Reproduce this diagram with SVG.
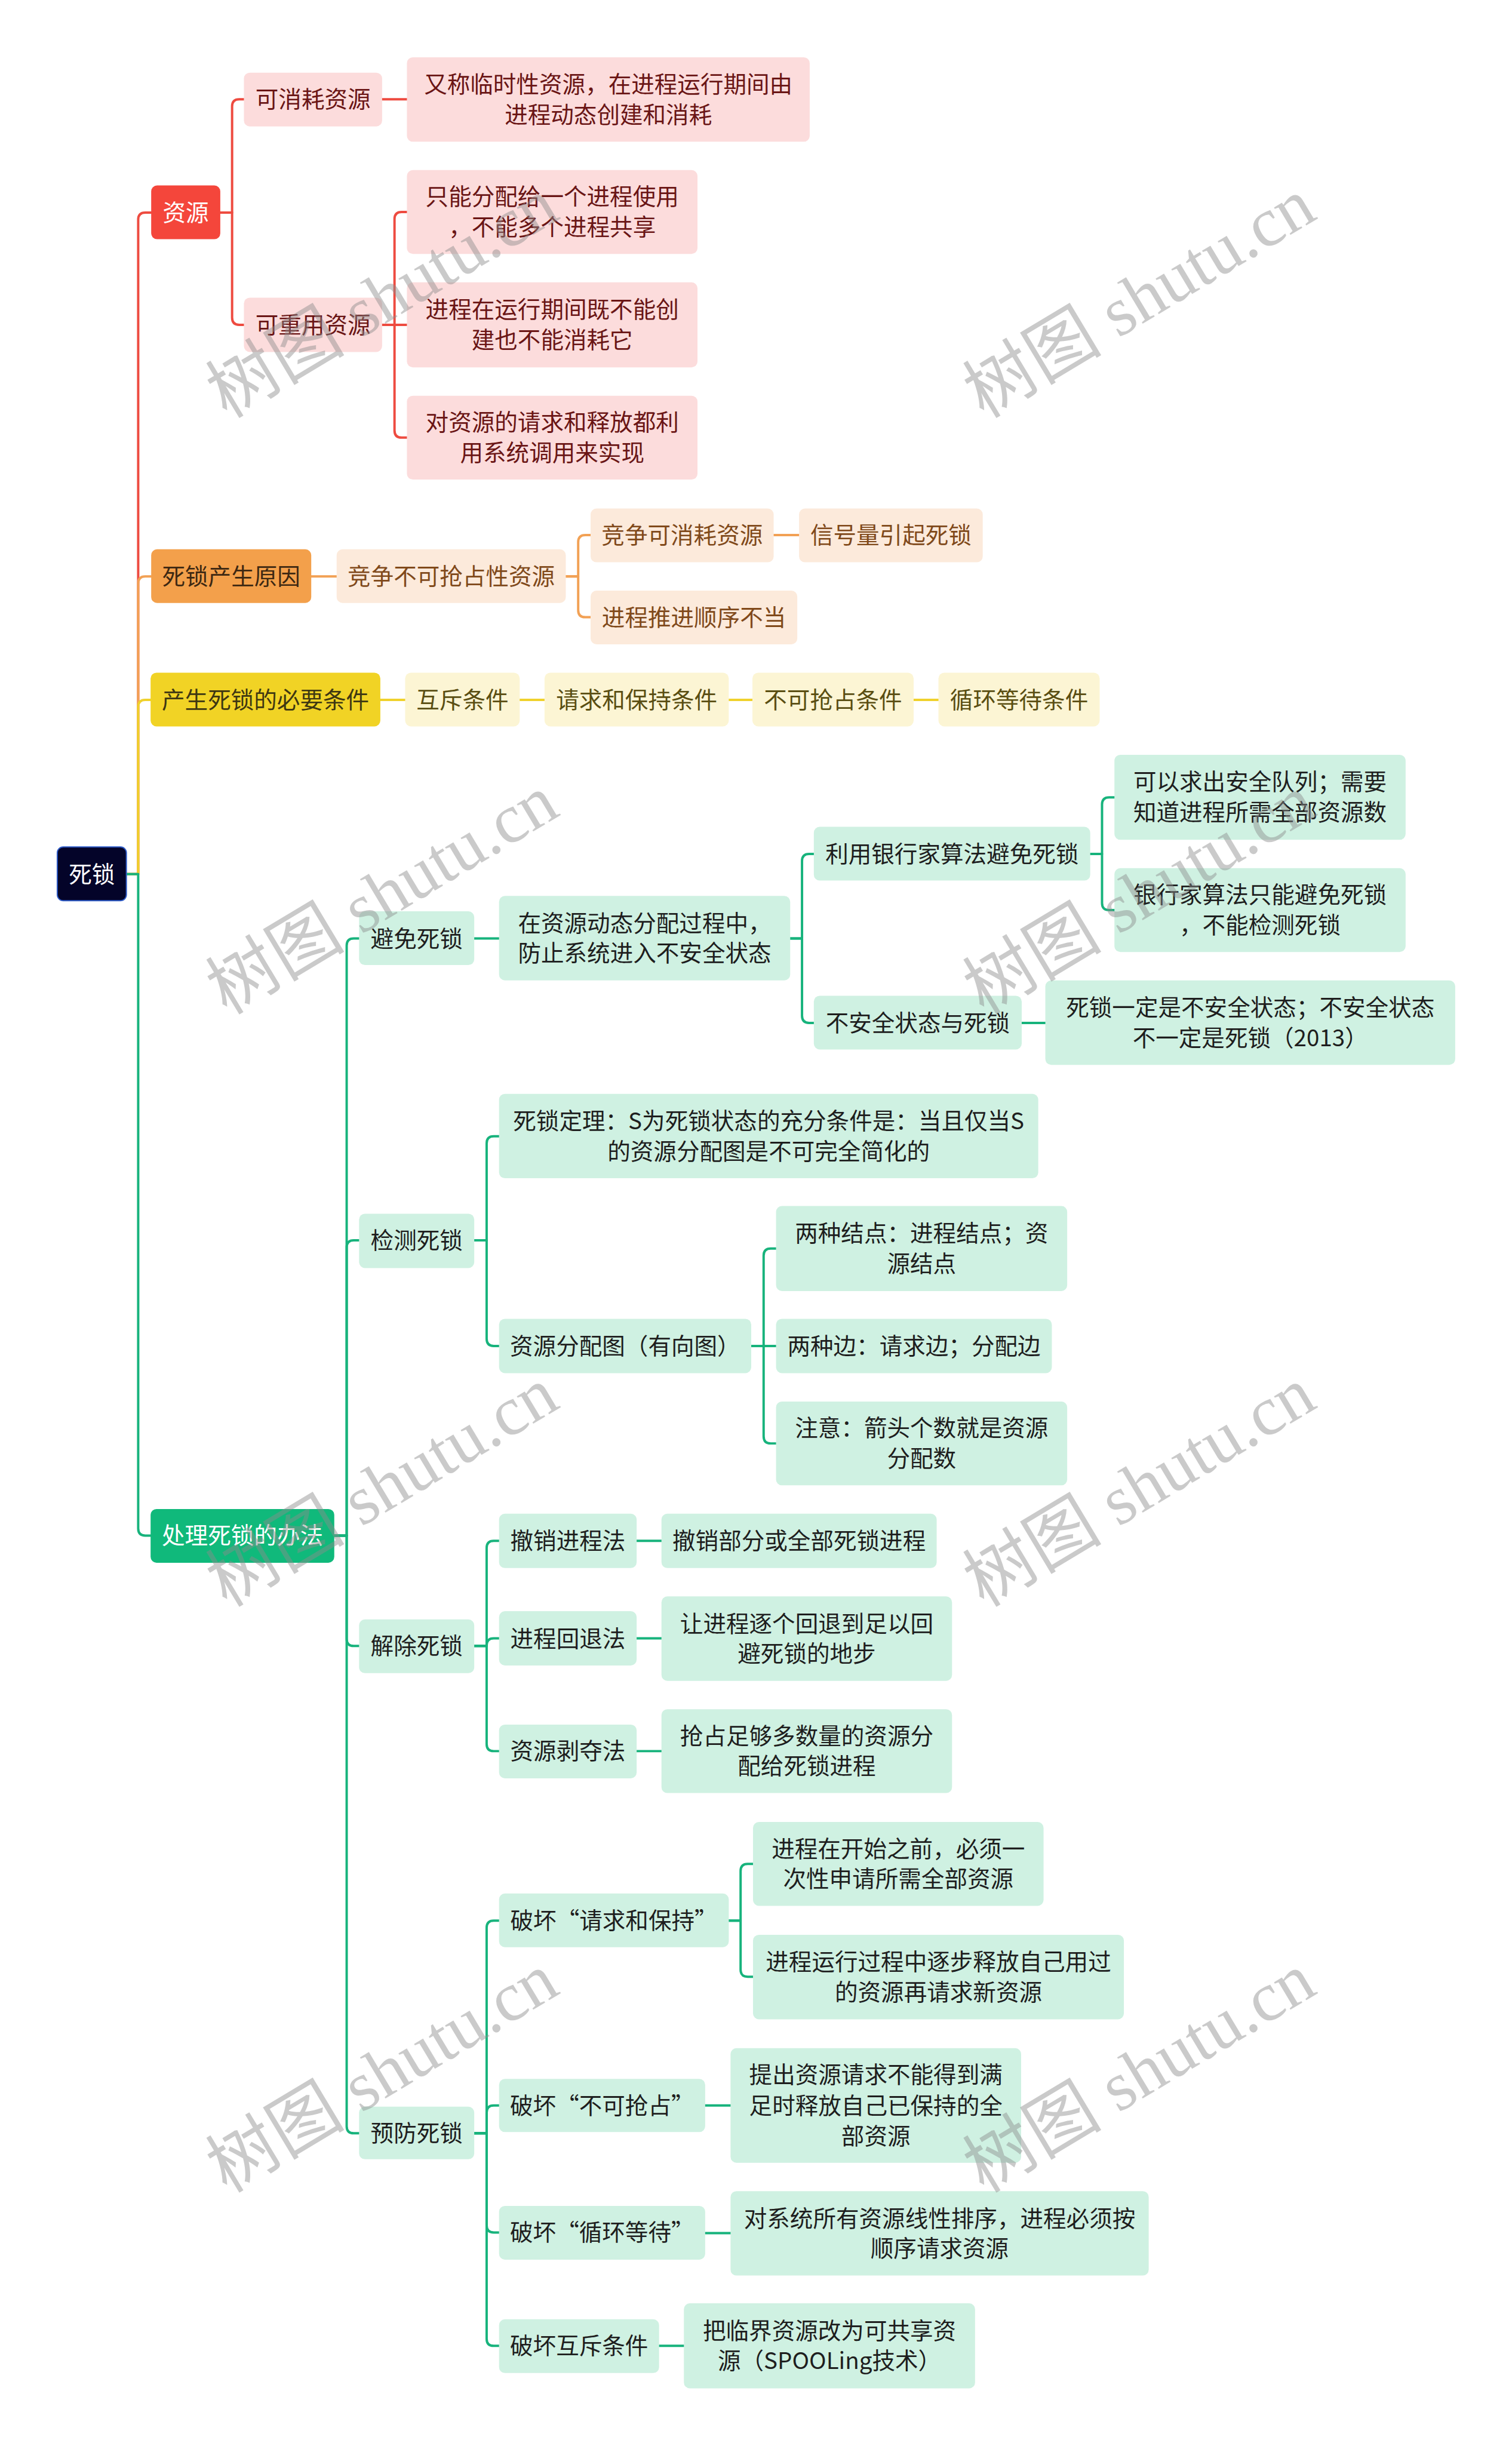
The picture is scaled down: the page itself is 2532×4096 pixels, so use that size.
<svg xmlns="http://www.w3.org/2000/svg" width="2532" height="4096" viewBox="0 0 2532 4096">
<style>
.t{font-family:"Noto Sans CJK SC","Noto Sans",sans-serif;font-size:39px;text-anchor:middle;dominant-baseline:central;transform:translateY(-3px)}
.c{fill:none;stroke-width:4;stroke-linecap:round;stroke-linejoin:round}
.cr{stroke:#EE4B40}.co{stroke:#F2A155}.cy{stroke:#F0D12C}.cg{stroke:#17B37C}
.rm{fill:#F4463B}.rs{fill:#FCDCDC}.om{fill:#F3A04B}.os{fill:#FCEADB}
.ym{fill:#F1D325}.ys{fill:#FCF5D4}.gm{fill:#10B97B}.gs{fill:#CFF1E2}
.root{fill:#040429;stroke:#2D5AC7;stroke-width:2}
.tw{fill:#FFFFFF}.trs{fill:#6A1515}.tom{fill:#3D2812}.tos{fill:#80491A}
.tym{fill:#3E3712}.tys{fill:#5A4E12}.tgs{fill:#1E1E1E}
.wm{font-family:"Liberation Serif","Noto Sans CJK SC",serif;font-size:118px;fill:#8C8C8C;opacity:0.45;text-anchor:middle;dominant-baseline:central}
</style>
<rect width="2532" height="4096" fill="#FFFFFF"/>
<g transform="scale(0.989)">
<g id="connectors">
<path class="c cr" d="M214 1480 H234 V372 Q234 360 246 360 H256"/>
<path class="c co" d="M214 1480 H234 V988 Q234 976 246 976 H256"/>
<path class="c cy" d="M214 1480 H234 V1197 Q234 1185 246 1185 H255"/>
<path class="c cg" d="M214 1480 H234 V2588 Q234 2600 246 2600 H255"/>
<path class="c cr" d="M373 360 H393 V180 Q393 168 405 168 H413"/>
<path class="c cr" d="M373 360 H393 V538 Q393 550 405 550 H413"/>
<path class="c cr" d="M647 168 H689"/>
<path class="c cr" d="M647 550 H668 V371 Q668 359 680 359 H689"/>
<path class="c cr" d="M647 550 H689"/>
<path class="c cr" d="M647 550 H668 V729 Q668 741 680 741 H689"/>
<path class="c co" d="M527 976 H570"/>
<path class="c co" d="M958 976 H979 V918 Q979 906 991 906 H1000"/>
<path class="c co" d="M958 976 H979 V1033 Q979 1045 991 1045 H1000"/>
<path class="c co" d="M1310 906 H1353"/>
<path class="c cy" d="M644 1185 H686"/>
<path class="c cy" d="M880 1185 H922"/>
<path class="c cy" d="M1234 1185 H1274"/>
<path class="c cy" d="M1547 1185 H1589"/>
<path class="c cg" d="M566 2600 H587 V1601 Q587 1589 599 1589 H608"/>
<path class="c cg" d="M566 2600 H587 V2112 Q587 2100 599 2100 H608"/>
<path class="c cg" d="M566 2600 H587 V2775 Q587 2787 599 2787 H608"/>
<path class="c cg" d="M566 2600 H587 V3600 Q587 3612 599 3612 H608"/>
<path class="c cg" d="M803 1589 H845"/>
<path class="c cg" d="M1338 1589 H1358 V1458 Q1358 1446 1370 1446 H1378"/>
<path class="c cg" d="M1338 1589 H1358 V1720 Q1358 1732 1370 1732 H1378"/>
<path class="c cg" d="M1846 1446 H1866 V1362 Q1866 1350 1878 1350 H1887"/>
<path class="c cg" d="M1846 1446 H1866 V1529 Q1866 1541 1878 1541 H1887"/>
<path class="c cg" d="M1730 1732 H1770"/>
<path class="c cg" d="M803 2100 H824 V1936 Q824 1924 836 1924 H845"/>
<path class="c cg" d="M803 2100 H824 V2267 Q824 2279 836 2279 H845"/>
<path class="c cg" d="M1272 2279 H1293 V2126 Q1293 2114 1305 2114 H1314"/>
<path class="c cg" d="M1272 2279 H1314"/>
<path class="c cg" d="M1272 2279 H1293 V2432 Q1293 2444 1305 2444 H1314"/>
<path class="c cg" d="M803 2787 H824 V2621 Q824 2609 836 2609 H845"/>
<path class="c cg" d="M803 2787 H824 V2786 Q824 2774 836 2774 H845"/>
<path class="c cg" d="M803 2787 H824 V2953 Q824 2965 836 2965 H845"/>
<path class="c cg" d="M1078 2609 H1120"/>
<path class="c cg" d="M1078 2774 H1120"/>
<path class="c cg" d="M1078 2965 H1120"/>
<path class="c cg" d="M803 3612 H824 V3264 Q824 3252 836 3252 H845"/>
<path class="c cg" d="M803 3612 H824 V3577 Q824 3565 836 3565 H845"/>
<path class="c cg" d="M803 3612 H824 V3768 Q824 3780 836 3780 H845"/>
<path class="c cg" d="M803 3612 H824 V3960 Q824 3972 836 3972 H845"/>
<path class="c cg" d="M1234 3252 H1254 V3168 Q1254 3156 1266 3156 H1275"/>
<path class="c cg" d="M1234 3252 H1254 V3335 Q1254 3347 1266 3347 H1275"/>
<path class="c cg" d="M1194 3565 H1237"/>
<path class="c cg" d="M1194 3781 H1237"/>
<path class="c cg" d="M1116 3972 H1158"/>
</g>

<g id="n-root"><rect class="root" x="97" y="1434" width="117" height="91" rx="10"/><text class="t tw" x="155.5" y="1480">死锁</text></g>

<g id="n-ziyuan"><rect class="rm" x="256" y="314" width="117" height="91" rx="10"/><text class="t tw" x="314.5" y="360">资源</text></g>
<g id="n-kexiaohao"><rect class="rs" x="413" y="123" width="234" height="91" rx="10"/><text class="t trs" x="530" y="168">可消耗资源</text></g>
<g id="n-youcheng"><rect class="rs" x="689" y="97" width="682" height="143" rx="10"/><text class="t trs" x="1030" y="143">又称临时性资源，在进程运行期间由</text><text class="t trs" x="1030" y="194">进程动态创建和消耗</text></g>
<g id="n-kechongyong"><rect class="rs" x="413" y="504" width="234" height="92" rx="10"/><text class="t trs" x="530" y="550">可重用资源</text></g>
<g id="n-zhineng"><rect class="rs" x="689" y="288" width="492" height="142" rx="10"/><text class="t trs" x="935" y="333">只能分配给一个进程使用</text><text class="t trs" x="935" y="384">，不能多个进程共享</text></g>
<g id="n-jinchengzai"><rect class="rs" x="689" y="478" width="492" height="144" rx="10"/><text class="t trs" x="935" y="524">进程在运行期间既不能创</text><text class="t trs" x="935" y="575">建也不能消耗它</text></g>
<g id="n-duiziyuan"><rect class="rs" x="689" y="670" width="492" height="142" rx="10"/><text class="t trs" x="935" y="715">对资源的请求和释放都利</text><text class="t trs" x="935" y="766">用系统调用来实现</text></g>

<g id="n-yuanyin"><rect class="om" x="256" y="930" width="271" height="91" rx="10"/><text class="t tom" x="391.5" y="976">死锁产生原因</text></g>
<g id="n-jingzheng1"><rect class="os" x="570" y="930" width="388" height="91" rx="10"/><text class="t tos" x="764" y="976">竞争不可抢占性资源</text></g>
<g id="n-jingzheng2"><rect class="os" x="1000" y="861" width="310" height="91" rx="10"/><text class="t tos" x="1155" y="906">竞争可消耗资源</text></g>
<g id="n-tuijin"><rect class="os" x="1000" y="1000" width="350" height="91" rx="10"/><text class="t tos" x="1175" y="1045">进程推进顺序不当</text></g>
<g id="n-xinhao"><rect class="os" x="1353" y="861" width="311" height="91" rx="10"/><text class="t tos" x="1508.5" y="906">信号量引起死锁</text></g>

<g id="n-biyao"><rect class="ym" x="255" y="1139" width="389" height="91" rx="10"/><text class="t tym" x="449.5" y="1185">产生死锁的必要条件</text></g>
<g id="n-huchi"><rect class="ys" x="686" y="1139" width="194" height="91" rx="10"/><text class="t tys" x="783" y="1185">互斥条件</text></g>
<g id="n-qingqiu"><rect class="ys" x="922" y="1139" width="312" height="91" rx="10"/><text class="t tys" x="1078" y="1185">请求和保持条件</text></g>
<g id="n-bukeqiang"><rect class="ys" x="1274" y="1139" width="273" height="91" rx="10"/><text class="t tys" x="1410.5" y="1185">不可抢占条件</text></g>
<g id="n-xunhuan"><rect class="ys" x="1589" y="1139" width="273" height="91" rx="10"/><text class="t tys" x="1725.5" y="1185">循环等待条件</text></g>

<g id="n-chuli"><rect class="gm" x="255" y="2555" width="311" height="91" rx="10"/><text class="t tw" x="410.5" y="2600">处理死锁的办法</text></g>
<g id="n-bimian"><rect class="gs" x="608" y="1543" width="195" height="91" rx="10"/><text class="t tgs" x="705.5" y="1589">避免死锁</text></g>
<g id="n-dongtai"><rect class="gs" x="845" y="1517" width="493" height="143" rx="10"/><text class="t tgs" x="1091.5" y="1563">在资源动态分配过程中，</text><text class="t tgs" x="1091.5" y="1614">防止系统进入不安全状态</text></g>
<g id="n-yinhang"><rect class="gs" x="1378" y="1400" width="468" height="91" rx="10"/><text class="t tgs" x="1612" y="1446">利用银行家算法避免死锁</text></g>
<g id="n-anquan"><rect class="gs" x="1887" y="1278" width="493" height="144" rx="10"/><text class="t tgs" x="2133.5" y="1324">可以求出安全队列；需要</text><text class="t tgs" x="2133.5" y="1375">知道进程所需全部资源数</text></g>
<g id="n-zhinengbimian"><rect class="gs" x="1887" y="1470" width="493" height="142" rx="10"/><text class="t tgs" x="2133.5" y="1515">银行家算法只能避免死锁</text><text class="t tgs" x="2133.5" y="1566">，不能检测死锁</text></g>
<g id="n-buanquan"><rect class="gs" x="1378" y="1686" width="352" height="91" rx="10"/><text class="t tgs" x="1554" y="1732">不安全状态与死锁</text></g>
<g id="n-yiding"><rect class="gs" x="1770" y="1660" width="694" height="143" rx="10"/><text class="t tgs" x="2117" y="1706">死锁一定是不安全状态；不安全状态</text><text class="t tgs" x="2117" y="1757">不一定是死锁（2013）</text></g>

<g id="n-jiance"><rect class="gs" x="608" y="2055" width="195" height="92" rx="10"/><text class="t tgs" x="705.5" y="2100">检测死锁</text></g>
<g id="n-dingli"><rect class="gs" x="845" y="1852" width="913" height="143" rx="10"/><text class="t tgs" x="1301.5" y="1898">死锁定理：S为死锁状态的充分条件是：当且仅当S</text><text class="t tgs" x="1301.5" y="1949">的资源分配图是不可完全简化的</text></g>
<g id="n-fenpeitu"><rect class="gs" x="845" y="2233" width="427" height="92" rx="10"/><text class="t tgs" x="1058.5" y="2279">资源分配图（有向图）</text></g>
<g id="n-jiedian"><rect class="gs" x="1314" y="2042" width="493" height="144" rx="10"/><text class="t tgs" x="1560.5" y="2088">两种结点：进程结点；资</text><text class="t tgs" x="1560.5" y="2139">源结点</text></g>
<g id="n-bian"><rect class="gs" x="1314" y="2233" width="467" height="92" rx="10"/><text class="t tgs" x="1547.5" y="2279">两种边：请求边；分配边</text></g>
<g id="n-zhuyi"><rect class="gs" x="1314" y="2373" width="493" height="142" rx="10"/><text class="t tgs" x="1560.5" y="2418">注意：箭头个数就是资源</text><text class="t tgs" x="1560.5" y="2469">分配数</text></g>

<g id="n-jiechu"><rect class="gs" x="608" y="2742" width="195" height="91" rx="10"/><text class="t tgs" x="705.5" y="2787">解除死锁</text></g>
<g id="n-chexiao"><rect class="gs" x="845" y="2563" width="233" height="92" rx="10"/><text class="t tgs" x="961.5" y="2609">撤销进程法</text></g>
<g id="n-chexiaobufen"><rect class="gs" x="1120" y="2563" width="466" height="92" rx="10"/><text class="t tgs" x="1353" y="2609">撤销部分或全部死锁进程</text></g>
<g id="n-huitui"><rect class="gs" x="845" y="2728" width="233" height="92" rx="10"/><text class="t tgs" x="961.5" y="2774">进程回退法</text></g>
<g id="n-zhuge"><rect class="gs" x="1120" y="2703" width="492" height="143" rx="10"/><text class="t tgs" x="1366" y="2749">让进程逐个回退到足以回</text><text class="t tgs" x="1366" y="2800">避死锁的地步</text></g>
<g id="n-boduo"><rect class="gs" x="845" y="2920" width="233" height="91" rx="10"/><text class="t tgs" x="961.5" y="2965">资源剥夺法</text></g>
<g id="n-qiangzhan"><rect class="gs" x="1120" y="2894" width="492" height="142" rx="10"/><text class="t tgs" x="1366" y="2939">抢占足够多数量的资源分</text><text class="t tgs" x="1366" y="2990">配给死锁进程</text></g>

<g id="n-yufang"><rect class="gs" x="608" y="3567" width="195" height="89" rx="10"/><text class="t tgs" x="705.5" y="3612">预防死锁</text></g>
<g id="n-pohuaiqingqiu"><rect class="gs" x="845" y="3206" width="389" height="91" rx="10"/><text class="t tgs" x="1039.5" y="3252">破坏“请求和保持”</text></g>
<g id="n-kaishi"><rect class="gs" x="1275" y="3085" width="492" height="142" rx="10"/><text class="t tgs" x="1521" y="3130">进程在开始之前，必须一</text><text class="t tgs" x="1521" y="3181">次性申请所需全部资源</text></g>
<g id="n-zhubu"><rect class="gs" x="1275" y="3276" width="628" height="143" rx="10"/><text class="t tgs" x="1589" y="3322">进程运行过程中逐步释放自己用过</text><text class="t tgs" x="1589" y="3373">的资源再请求新资源</text></g>
<g id="n-pohuaibuke"><rect class="gs" x="845" y="3520" width="349" height="90" rx="10"/><text class="t tgs" x="1019.5" y="3565">破坏“不可抢占”</text></g>
<g id="n-tichu"><rect class="gs" x="1237" y="3468" width="492" height="194" rx="10"/><text class="t tgs" x="1483" y="3513">提出资源请求不能得到满</text><text class="t tgs" x="1483" y="3565">足时释放自己已保持的全</text><text class="t tgs" x="1483" y="3617">部资源</text></g>
<g id="n-pohuaixunhuan"><rect class="gs" x="845" y="3735" width="349" height="91" rx="10"/><text class="t tgs" x="1019.5" y="3780">破坏“循环等待”</text></g>
<g id="n-paixu"><rect class="gs" x="1237" y="3710" width="708" height="143" rx="10"/><text class="t tgs" x="1591" y="3756">对系统所有资源线性排序，进程必须按</text><text class="t tgs" x="1591" y="3807">顺序请求资源</text></g>
<g id="n-pohuaihuchi"><rect class="gs" x="845" y="3927" width="271" height="91" rx="10"/><text class="t tgs" x="980.5" y="3972">破坏互斥条件</text></g>
<g id="n-spooling"><rect class="gs" x="1158" y="3900" width="493" height="144" rx="10"/><text class="t tgs" x="1404.5" y="3946">把临界资源改为可共享资</text><text class="t tgs" x="1404.5" y="3997">源（SPOOLing技术）</text></g>

<g id="watermarks">
<text class="wm" transform="translate(647 505) rotate(-31)">树图 shutu.cn</text>
<text class="wm" transform="translate(1929 505) rotate(-31)">树图 shutu.cn</text>
<text class="wm" transform="translate(647 1515) rotate(-31)">树图 shutu.cn</text>
<text class="wm" transform="translate(1929 1515) rotate(-31)">树图 shutu.cn</text>
<text class="wm" transform="translate(647 2518) rotate(-31)">树图 shutu.cn</text>
<text class="wm" transform="translate(1929 2518) rotate(-31)">树图 shutu.cn</text>
<text class="wm" transform="translate(647 3510) rotate(-31)">树图 shutu.cn</text>
<text class="wm" transform="translate(1929 3510) rotate(-31)">树图 shutu.cn</text>
</g>
</g>
</svg>
